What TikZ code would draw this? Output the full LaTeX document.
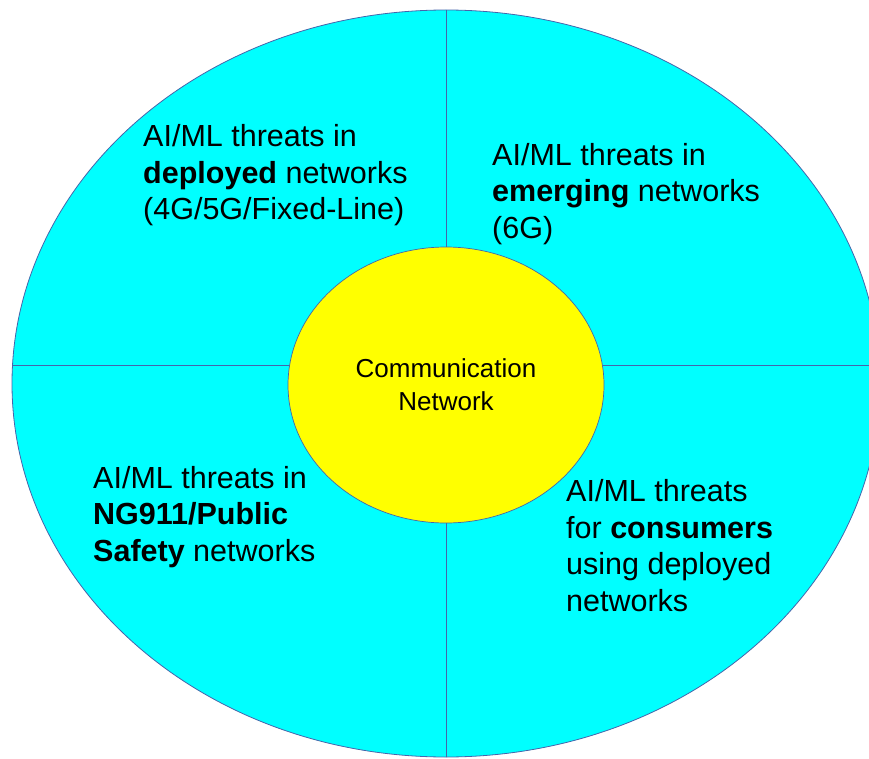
\documentclass[tikz,border=0pt]{standalone}
\usepackage{fontspec}
\setmainfont{Liberation Sans}
\usetikzlibrary{shapes.geometric}
\definecolor{ringfill}{RGB}{0,255,255}
\definecolor{corefill}{RGB}{255,255,0}
\definecolor{edgeblue}{RGB}{70,100,170}
\begin{document}
\begin{tikzpicture}[x=1pt,y=-1pt,
  quadtext/.style={anchor=base west, align=left, inner sep=0pt, font=\fontsize{30.5}{36.5}\selectfont},
  divider/.style={draw=edgeblue, line width=0.7pt}]
\useasboundingbox (0,0) rectangle (869,759);
\clip (0,0) rectangle (869,759);
\node[ellipse, inner sep=0pt, minimum width=868pt, minimum height=747pt,
      fill=ringfill, draw=edgeblue, line width=0.8pt] (ring) at (446,383.5) {};
\begin{scope}
  \clip (446,383.5) ellipse [x radius=434pt, y radius=373.5pt];
  \coordinate (vtop) at (446,0);
  \coordinate (vbot) at (446,759);
  \coordinate (hleft) at (0,365.7);
  \coordinate (hright) at (869,365.7);
  \draw[divider] (vtop) -- (vbot);
  \draw[divider] (hleft) -- (hright);
\end{scope}
\node[ellipse, inner sep=0pt, minimum width=316pt, minimum height=276pt,
      fill=corefill, draw=edgeblue, line width=0.7pt, align=center,
      font=\fontsize{26}{33}\selectfont] (core) at (446,385) {Communication\\Network};
\node[quadtext] (tl) at (143,220) {AI/ML threats in\\\textbf{deployed} networks\\(4G/5G/Fixed-Line)};
\node[quadtext] (tr) at (492,238) {AI/ML threats in\\\textbf{emerging} networks\\(6G)};
\node[quadtext] (bl) at (93,561) {AI/ML threats in\\\textbf{NG911/Public}\\\textbf{Safety} networks};
\node[quadtext] (br) at (566,611.2) {AI/ML threats\\for \textbf{consumers}\\using deployed\\networks};
\end{tikzpicture}
\end{document}
